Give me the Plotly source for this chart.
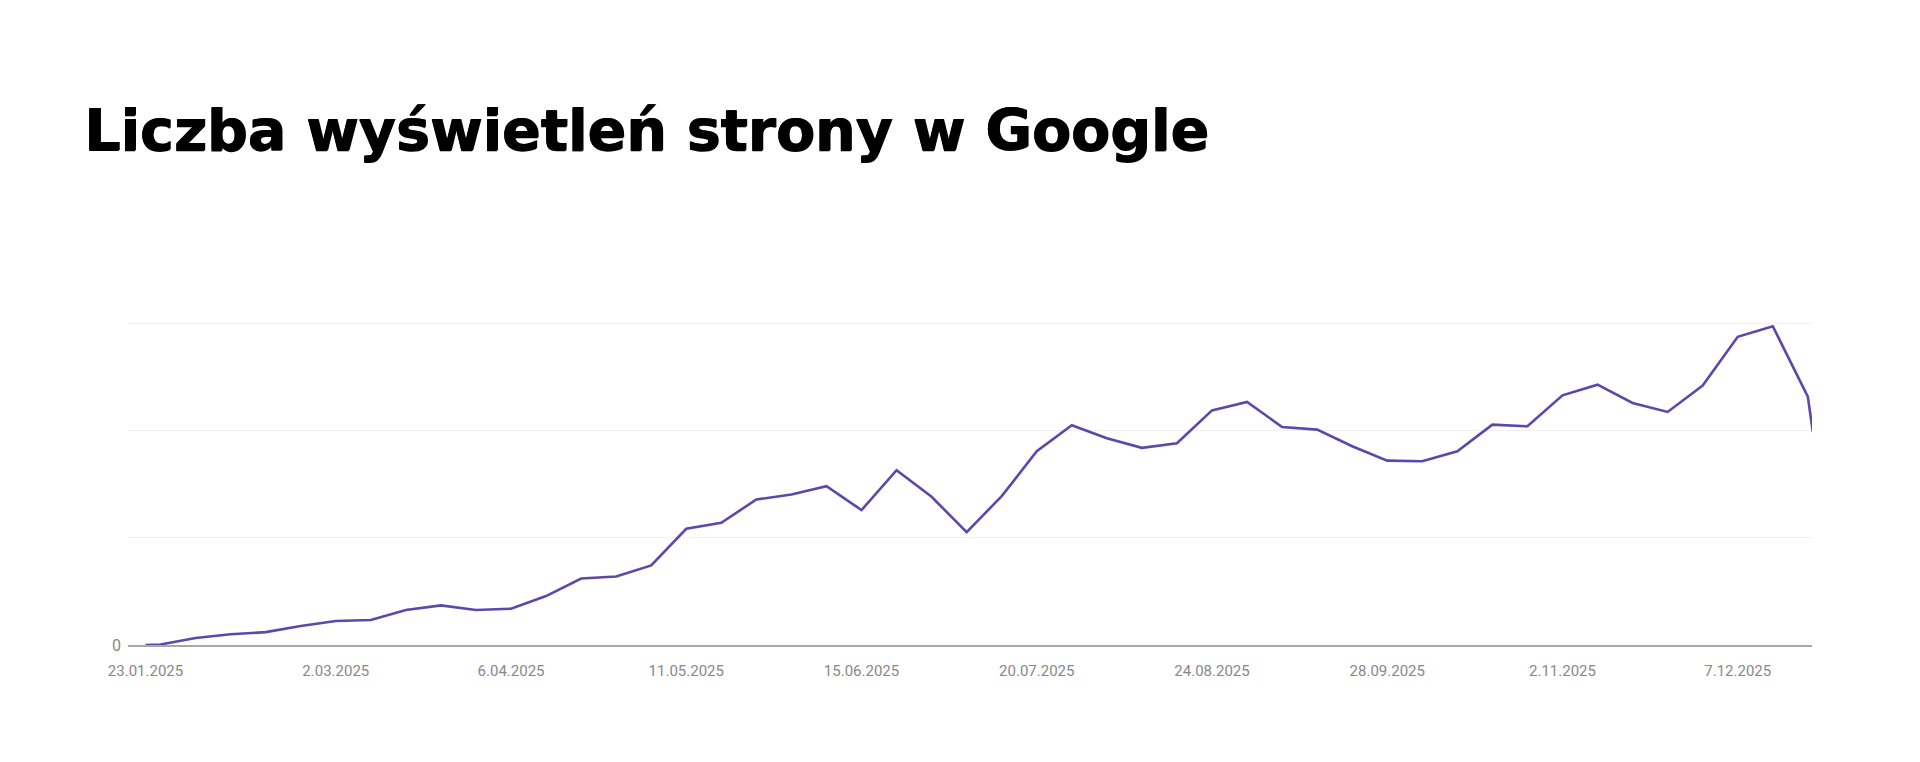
import plotly.graph_objects as go

# weekly impressions (y labels hidden in the source, scale is relative)
dates = [
    "2025-01-23", "2025-01-26", "2025-02-02", "2025-02-09", "2025-02-16", "2025-02-23",
    "2025-03-02", "2025-03-09", "2025-03-16", "2025-03-23", "2025-03-30", "2025-04-06",
    "2025-04-13", "2025-04-20", "2025-04-27", "2025-05-04", "2025-05-11", "2025-05-18",
    "2025-05-25", "2025-06-01", "2025-06-08", "2025-06-15", "2025-06-22", "2025-06-29",
    "2025-07-06", "2025-07-13", "2025-07-20", "2025-07-27", "2025-08-03", "2025-08-10",
    "2025-08-17", "2025-08-24", "2025-08-31", "2025-09-07", "2025-09-14", "2025-09-21",
    "2025-09-28", "2025-10-05", "2025-10-12", "2025-10-19", "2025-10-26", "2025-11-02",
    "2025-11-09", "2025-11-16", "2025-11-23", "2025-11-30", "2025-12-07", "2025-12-14",
    "2025-12-21", "2025-12-22",
]
views = [
    0, 5, 65, 100, 120, 177,
    223, 233, 326, 369, 326, 338,
    456, 620, 638, 742, 1083, 1139,
    1356, 1402, 1480, 1257, 1629, 1381,
    1052, 1387, 1806, 2048, 1927, 1837,
    1880, 2186, 2265, 2032, 2007, 1852,
    1718, 1713, 1806, 2054, 2038, 2327,
    2426, 2256, 2172, 2417, 2872, 2970,
    2315, 1985,
]

tick_dates = ["2025-01-23", "2025-03-02", "2025-04-06", "2025-05-11", "2025-06-15",
              "2025-07-20", "2025-08-24", "2025-09-28", "2025-11-02", "2025-12-07"]
tick_labels = ["23.01.2025", "2.03.2025", "6.04.2025", "11.05.2025", "15.06.2025",
               "20.07.2025", "24.08.2025", "28.09.2025", "2.11.2025", "7.12.2025"]

y_ticks = [0, 1000, 2000, 3000]
y_labels = ["0", "", "", ""]

fig = go.Figure(go.Scatter(
    x=dates,
    y=views,
    mode='lines',
    line=dict(color='#5c48aa', width=2.6),
    hoverinfo='x+y',
))

# page body keeps its default 8px margin, so the figure is 16px smaller
fig.update_layout(
    width=1904,
    height=746,
    paper_bgcolor='white',
    plot_bgcolor='white',
    showlegend=False,
    margin=dict(l=120, r=100, t=314, b=109),
    title=dict(
        text='Liczba wyświetleń strony w Google',
        font=dict(family='DejaVu Sans', size=57, color='#000000', weight='bold',
                  shadow='1px 0px 0px #000, 0px 1px 0px #000'),
        x=76 / 1904, xanchor='left', xref='container',
        y=1 - 122 / 746, yanchor='middle', yref='container',
    ),
    font=dict(family='Roboto', color='#888888'),
    xaxis=dict(
        type='date',
        range=['2025-01-19 12:00', '2025-12-21 20:00'],
        tickvals=tick_dates,
        ticktext=tick_labels,
        tickfont=dict(size=15, color='#888888'),
        ticks='',
        ticklabelstandoff=11,
        showgrid=False,
        showline=True,
        linecolor='#a8a8a8',
        linewidth=1.5,
        zeroline=False,
    ),
    yaxis=dict(
        range=[0, 3010],
        tickvals=y_ticks,
        ticktext=y_labels,
        tickfont=dict(size=16, color='#888888'),
        ticks='',
        ticklabelstandoff=6,
        showgrid=True,
        gridcolor='#efefef',
        gridwidth=1.2,
        zeroline=False,
        showline=False,
    ),
)

fig.write_html("out.html")
